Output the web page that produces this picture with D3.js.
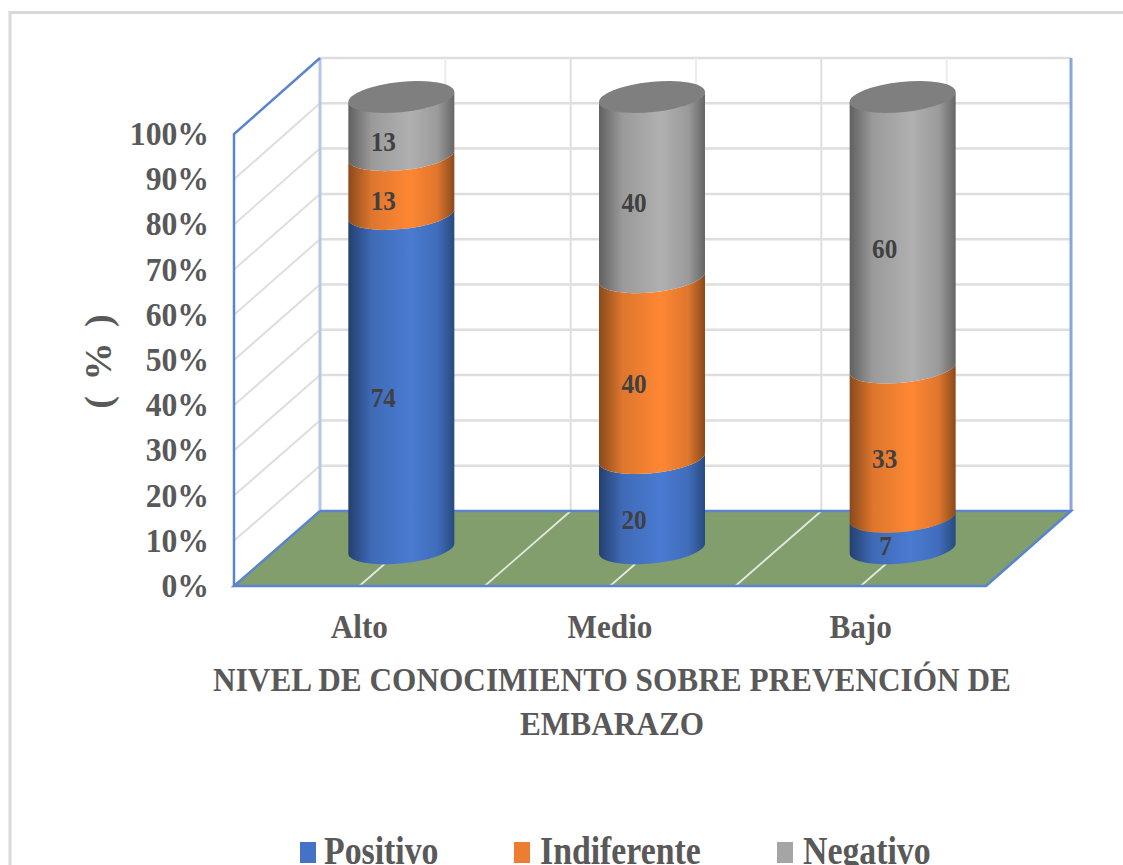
<!DOCTYPE html>
<html><head><meta charset="utf-8">
<script src="https://cdn.jsdelivr.net/npm/d3@7/dist/d3.min.js"></script>
<style>html,body{margin:0;padding:0;background:#fff;overflow:hidden}text{font-family:"Liberation Serif",serif;font-weight:bold}</style>
</head><body><svg id="c" width="1123" height="865"></svg>
<script>
const categories=["Alto","Medio","Bajo"];
const seriesNames=["Positivo","Indiferente","Negativo"];
const positivo=[74,20,7];
const indiferente=[13,40,33];
const negativo=[13,40,60];
const stackTotals=[100,100,100];
const yTicks=d3.range(0,101,10);
const xTitleLines=["NIVEL DE CONOCIMIENTO SOBRE PREVENCIÓN DE","EMBARAZO"];
const yTitle="( % )";
const legendColors=["#4472c4","#ed7d31","#a5a5a5"];

const svg=d3.select("#c");
const defs=svg.append("defs");
const grads=[["#24406f","#4a7bd2","#284a80"],["#8a4a1c","#ff8733","#8a4a1c"],["#606060","#b0b0b0","#666666"]];
grads.forEach((g,i)=>{
  const lg=defs.append("linearGradient").attr("id","g"+i);
  lg.append("stop").attr("offset","0%").attr("stop-color",g[0]);
  lg.append("stop").attr("offset","22%").attr("stop-color",d3.interpolateRgb(g[0],g[1])(.72));
  lg.append("stop").attr("offset","58%").attr("stop-color",g[1]);
  lg.append("stop").attr("offset","84%").attr("stop-color",d3.interpolateRgb(g[2],g[1])(.72));
  lg.append("stop").attr("offset","100%").attr("stop-color",g[2]);
});
function label(parent,x,y,str,size,sx,anchor,fill){
  return parent.append("text").attr("transform",`translate(${x},${y}) scale(${sx},1)`)
    .attr("text-anchor",anchor).attr("font-size",size).attr("fill",fill).text(str);
}

// frame
svg.append("path").attr("d","M10,865V12.5H1123").attr("fill","none").attr("stroke","#d9d9d9").attr("stroke-width",3);

// 3D box
const frontX=d3.scaleBand().domain(categories).range([234,986]);
const dx=86,
      yFront=d3.scaleLinear().domain([0,100]).range([586,134]),
      yBack=d3.scaleLinear().domain([0,100]).range([511,58]),
      yBar=d3.scaleLinear().domain([0,100]).range([549,97]);
const gridC="#dedede";
const grid=svg.append("g");
grid.append("path").attr("d",`M234,586L320,511H1071L986,586Z`).attr("fill","#829e6d");
yTicks.filter(t=>t>0).forEach(t=>{
  grid.append("line").attr("x1",320).attr("x2",1071).attr("y1",yBack(t)).attr("y2",yBack(t)).attr("stroke",gridC).attr("stroke-width",2.5);
  grid.append("line").attr("x1",234).attr("x2",320).attr("y1",yFront(t)).attr("y2",yBack(t)).attr("stroke",gridC).attr("stroke-width",2);
});
const edges=[0,.5,1,1.5,2,2.5,3];
const bw=frontX.bandwidth();
edges.slice(1,-1).forEach(e=>{
  const x=234+e*bw;
  grid.append("line").attr("x1",x+dx).attr("x2",x+dx).attr("y1",yBack(0)).attr("y2",yBack(100))
    .attr("stroke",Number.isInteger(e)?gridC:"#ececec").attr("stroke-width",2);
  grid.append("line").attr("x1",x).attr("x2",x+dx).attr("y1",586).attr("y2",511).attr("stroke","#e4e8e0").attr("stroke-width",1.8);
});
const blue="#5b84d0";
grid.append("line").attr("x1",320).attr("x2",320).attr("y1",511).attr("y2",58).attr("stroke","#b5c7e6").attr("stroke-width",3);
grid.append("line").attr("x1",1071).attr("x2",1071).attr("y1",511).attr("y2",58).attr("stroke","#8aa6dc").attr("stroke-width",3);
grid.append("path").attr("d","M234,586V134L320,58").attr("fill","none").attr("stroke",blue).attr("stroke-width",2.5);
grid.append("path").attr("d","M320,511H1071L986,586H234L320,511").attr("fill","none").attr("stroke",blue).attr("stroke-width",2.5);

// cylinders
const RX=53.3,RY=15.1,ROT=-5.9,HX=53,HY=5;
const rows=categories.map((c,i)=>({cat:c,Positivo:positivo[i],Indiferente:indiferente[i],Negativo:negativo[i]}));
const stacked=d3.stack().keys(seriesNames)(rows);
const bars=svg.append("g");
categories.forEach((c,i)=>{
  const cx=frontX(c)+bw/2+dx/2-1;
  stacked.forEach((s,k)=>{
    const [v0,v1]=s[i];
    const yb=yBar(v0),yt=yBar(v1);
    bars.append("path").attr("fill",`url(#g${k})`)
      .attr("d",`M${cx-HX},${yt+HY}L${cx-HX},${yb+HY}A${RX},${RY} ${ROT} 0 0 ${cx+HX},${yb-HY}L${cx+HX},${yt-HY}A${RX},${RY} ${ROT} 0 1 ${cx-HX},${yt+HY}Z`);
  });
  bars.append("ellipse").attr("cx",cx).attr("cy",yBar(stackTotals[i])).attr("rx",RX).attr("ry",RY)
    .attr("transform",`rotate(${ROT} ${cx} ${yBar(stackTotals[i])})`).attr("fill","#7f7f7f");
  stacked.forEach((s,k)=>{
    const [v0,v1]=s[i];
    const small=v1-v0<10;
    label(bars,cx-18+(small?1:0),(yBar(v0)+yBar(v1))/2+(small?22:25),v1-v0,28,.9,"middle","#404040");
  });
});

// y axis labels
yTicks.forEach(d=>label(svg,209,yFront(d)+11,d+"%",33,.96,"end","#595959"));
svg.append("text").attr("transform","translate(111,360) rotate(-90)").attr("text-anchor","middle")
  .attr("font-size",38).attr("letter-spacing",3).attr("fill","#595959").text(yTitle);

// x labels
categories.forEach(c=>label(svg,frontX(c)+bw/2,638,c,33,.945,"middle","#595959"));
xTitleLines.forEach((t,i)=>label(svg,612,691+i*43.5,t,34,.92,"middle","#595959"));

// legend
const legX=[300,514,777], legT=[324,540,803];
seriesNames.forEach((n,i)=>{
  svg.append("rect").attr("x",legX[i]).attr("y",842).attr("width",16).attr("height",21).attr("fill",legendColors[i]);
  label(svg,legT[i],864,n,40,.845,"start","#595959");
});
</script></body></html>
